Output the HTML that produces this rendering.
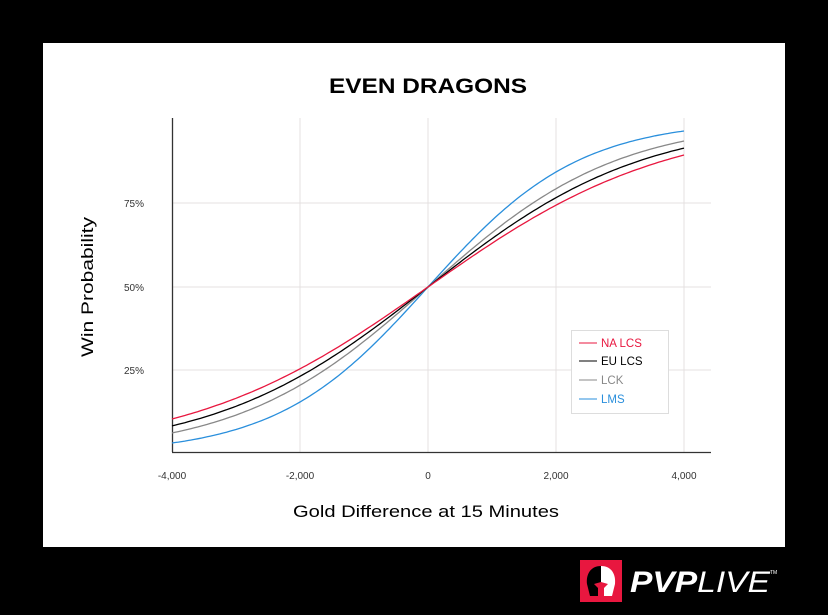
<!DOCTYPE html>
<html><head><meta charset="utf-8"><style>
html,body{margin:0;padding:0;background:#000;width:828px;height:615px;overflow:hidden;font-family:"Liberation Sans",sans-serif}
</style></head><body>
<svg id="s" width="828" height="615" xmlns="http://www.w3.org/2000/svg" font-family="Liberation Sans, sans-serif">
<rect x="0" y="0" width="828" height="615" fill="#000"/>
<rect x="43" y="43" width="742" height="504" fill="#fff"/>
<text x="428" y="93" text-anchor="middle" font-size="21" font-weight="bold" fill="#000" textLength="198" lengthAdjust="spacingAndGlyphs">EVEN DRAGONS</text>
<g stroke="#e4e0e0" stroke-width="1">
<line x1="300" y1="118" x2="300" y2="452"/><line x1="428" y1="118" x2="428" y2="452"/>
<line x1="556" y1="118" x2="556" y2="452"/><line x1="684" y1="118" x2="684" y2="452"/>
<line x1="172" y1="203" x2="711" y2="203"/><line x1="172" y1="287" x2="711" y2="287"/>
<line x1="172" y1="370" x2="711" y2="370"/>
</g>
<line x1="172.5" y1="118" x2="172.5" y2="452" stroke="#333" stroke-width="1.3"/>
<line x1="172" y1="452.5" x2="711" y2="452.5" stroke="#333" stroke-width="1.3"/>
<g font-size="10" fill="#333" text-anchor="end">
<text x="144" y="207">75%</text><text x="144" y="291">50%</text><text x="144" y="374">25%</text>
</g>
<g font-size="10" fill="#333" text-anchor="middle">
<text x="172" y="479">-4,000</text><text x="300" y="479">-2,000</text><text x="428" y="479">0</text>
<text x="556" y="479">2,000</text><text x="684" y="479">4,000</text>
</g>
<text x="426" y="517" text-anchor="middle" font-size="17" fill="#000" textLength="266" lengthAdjust="spacingAndGlyphs">Gold Difference at 15 Minutes</text>
<text transform="translate(93,287) rotate(-90)" text-anchor="middle" font-size="17" fill="#000" textLength="140" lengthAdjust="spacingAndGlyphs">Win Probability</text>
<g id="curves" fill="none" stroke-width="1.3"></g>
<rect x="571.5" y="330.5" width="97" height="83" fill="#fff" stroke="#ddd"/>
<g font-size="11.5">
<line x1="579" y1="343" x2="597" y2="343" stroke="#e8173f"/><text x="601" y="347" fill="#e8173f">NA LCS</text>
<line x1="579" y1="361" x2="597" y2="361" stroke="#000"/><text x="601" y="365" fill="#000">EU LCS</text>
<line x1="579" y1="380" x2="597" y2="380" stroke="#888"/><text x="601" y="384" fill="#888">LCK</text>
<line x1="579" y1="399" x2="597" y2="399" stroke="#2a8fdc"/><text x="601" y="403" fill="#2a8fdc">LMS</text>
</g>
<rect x="580" y="560" width="42" height="42" fill="#e8173f"/>
<path d="M601 566 C590 566 586 575 587 584 L590 596 L598 596 L598 588 L594 584 L601 582 Z" fill="#000"/>
<path d="M601 566 C612 566 616 575 615 584 L612 596 L604 596 L604 588 L608 584 L601 582 Z" fill="#fff"/>
<text x="630" y="592" font-size="30" font-weight="bold" font-style="italic" fill="#fff" textLength="140" lengthAdjust="spacingAndGlyphs">PVP<tspan font-weight="normal">LIVE</tspan></text>
<text x="770" y="574" font-size="5" fill="#fff">TM</text>
</svg>
<script>
var g=document.getElementById('curves');
var sets=[['#2a8fdc',0.000845],['#888',0.000675],['#000',0.000597],['#e8173f',0.000536]];
sets.forEach(function(s){var d='';for(var x=-4000;x<=4000;x+=50){var p=1/(1+Math.exp(-s[1]*x));var px=428+x*0.064;var py=454-p*334;d+=(x==-4000?'M':'L')+px.toFixed(1)+' '+py.toFixed(1);}
var e=document.createElementNS('http://www.w3.org/2000/svg','path');e.setAttribute('d',d);e.setAttribute('stroke',s[0]);g.appendChild(e);});
</script>
</body></html>
